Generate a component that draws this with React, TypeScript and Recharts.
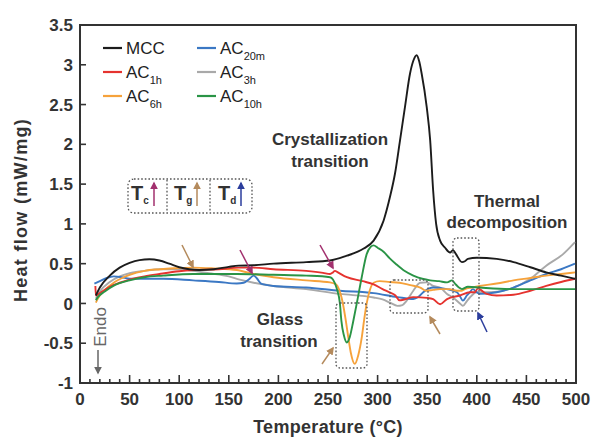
import React from "react";
import { LineChart, Line, XAxis, YAxis, ReferenceArea } from "recharts";

const FONT = '"Liberation Sans", Arial, Helvetica, sans-serif';
const INK = "#333";

const xLabels = [0, 50, 100, 150, 200, 250, 300, 350, 400, 450, 500];
const xTicks = Array.from({ length: 51 }, (_, i) => i * 10);
const yTicks = [-1, -0.5, 0, 0.5, 1, 1.5, 2, 2.5, 3, 3.5];

// [temperature °C, heat flow mW/mg]
const mcc: [number, number][] = [
  [16, 0.1], [20, 0.2], [30, 0.35], [40, 0.45], [50, 0.51], [60, 0.545], [70, 0.555], [80, 0.54],
  [90, 0.5], [100, 0.455], [110, 0.43], [120, 0.42], [135, 0.43], [150, 0.46], [160, 0.475],
  [175, 0.48], [195, 0.5], [228, 0.52], [252, 0.54], [269, 0.6], [280, 0.65], [286, 0.69],
  [296, 0.79], [306, 1.04], [312.5, 1.34], [317.5, 1.63], [322.6, 2.05], [327.6, 2.47],
  [332.7, 2.89], [336, 3.05], [339.4, 3.12], [342, 3.04], [344.4, 2.89], [349.5, 2.47],
  [353, 2.05], [356, 1.42], [359, 1.0], [363, 0.79], [368, 0.7], [373, 0.64], [376, 0.67],
  [379, 0.62], [385, 0.52], [388, 0.53], [391, 0.56], [400, 0.575], [420, 0.56], [437, 0.52],
  [454, 0.455], [470, 0.39], [485, 0.35], [499, 0.31],
];
const ac20m: [number, number][] = [
  [14.5, 0.25], [20, 0.28], [27, 0.32], [34, 0.34], [42, 0.33], [50, 0.31], [84, 0.31],
  [114, 0.29], [140, 0.27], [158, 0.25], [165, 0.26], [170, 0.3], [175, 0.35], [178, 0.32],
  [183, 0.245], [195, 0.22], [228, 0.2], [262, 0.16], [296, 0.13], [320, 0.08], [336, 0.055],
  [341, 0.08], [346, 0.14], [352, 0.19], [356, 0.2], [370, 0.18], [380, 0.14], [383, 0.09],
  [386, 0.035], [390, 0.1], [393, 0.14], [396, 0.18], [400, 0.14], [403, 0.12], [420, 0.14],
  [437, 0.2], [454, 0.29], [470, 0.37], [485, 0.43], [499, 0.5],
];
const ac1h: [number, number][] = [
  [15.5, 0.22], [16, 0.1], [20, 0.13], [30, 0.21], [40, 0.26], [50, 0.3], [65, 0.34], [80, 0.37],
  [100, 0.405], [115, 0.42], [140, 0.43], [160, 0.45], [175, 0.45], [195, 0.43], [228, 0.41],
  [245, 0.385], [252, 0.37], [255, 0.39], [257, 0.41], [260, 0.39], [269, 0.33], [285, 0.28],
  [296, 0.24], [305, 0.18], [312, 0.14], [318, 0.1], [322, 0.04], [327, 0.05], [336, 0.08],
  [350, 0.07], [356, 0.055], [363, -0.01], [370, 0.055], [383, 0.1], [393, 0.14], [398, 0.14],
  [401, 0.19], [404, 0.17], [410, 0.12], [420, 0.1], [437, 0.11], [454, 0.16], [470, 0.22],
  [485, 0.27], [499, 0.31],
];
const ac3h: [number, number][] = [
  [16, 0.06], [20, 0.15], [30, 0.27], [40, 0.34], [50, 0.38], [65, 0.41], [80, 0.43],
  [100, 0.43], [114, 0.41], [130, 0.38], [150, 0.34], [161, 0.3], [175, 0.26], [195, 0.22],
  [228, 0.18], [262, 0.12], [296, 0.075], [305, 0.05], [312.5, 0.01], [320, -0.03], [325, -0.02],
  [329, 0.03], [336, 0.16], [343, 0.26], [349.5, 0.265], [356, 0.22], [363, 0.2], [370, 0.12],
  [376, 0.075], [383, 0.0], [386, -0.03], [390, 0.03], [393, 0.075], [400, 0.14], [413, 0.14],
  [437, 0.2], [454, 0.31], [470, 0.475], [487, 0.62], [499, 0.77],
];
const ac6h: [number, number][] = [
  [16, 0.01], [18, 0.06], [25, 0.17], [35, 0.27], [50, 0.36], [65, 0.41], [81, 0.43],
  [100, 0.445], [114, 0.45], [135, 0.44], [158, 0.42], [175, 0.37], [195, 0.33], [228, 0.29],
  [252, 0.265], [258, 0.24], [261, 0.18], [265, 0.0], [268, -0.22], [270.5, -0.43], [273, -0.62],
  [277, -0.76], [280.5, -0.65], [284, -0.43], [286.5, -0.2], [289, 0.0], [292, 0.16], [296, 0.26],
  [302, 0.28], [312, 0.27], [322, 0.26], [333, 0.23], [343, 0.2], [349, 0.16], [356, 0.17],
  [363, 0.18], [372, 0.18], [380, 0.16], [385, 0.16], [388, 0.18], [395, 0.2], [403, 0.22],
  [420, 0.25], [437, 0.29], [454, 0.32], [470, 0.35], [485, 0.37], [499, 0.39],
];
const ac10h: [number, number][] = [
  [16, 0.04], [18, 0.08], [25, 0.15], [35, 0.23], [50, 0.29], [65, 0.33], [84, 0.35],
  [114, 0.37], [158, 0.37], [195, 0.36], [228, 0.35], [252, 0.33], [255, 0.3], [259, 0.18],
  [262, 0.0], [263.5, -0.22], [266, -0.4], [269, -0.49], [272, -0.42], [275.5, -0.22],
  [279, 0.0], [284, 0.33], [289, 0.62], [293, 0.71], [296, 0.73], [300, 0.7], [306, 0.65],
  [312, 0.57], [319, 0.49], [327, 0.41], [336, 0.35], [345, 0.31], [353, 0.29], [362, 0.28],
  [370, 0.265], [375, 0.29], [378, 0.25], [382, 0.2], [385, 0.18], [391, 0.21], [403, 0.2],
  [437, 0.18], [470, 0.18], [499, 0.18],
];

const toPts = (a: [number, number][]) => a.map(([t, h]) => ({ t, h }));

const series = [
  { key: "ac3h", name: "AC", sub: "3h", color: "#a9a9a9", data: ac3h },
  { key: "ac20m", name: "AC", sub: "20m", color: "#3b78c4", data: ac20m },
  { key: "ac6h", name: "AC", sub: "6h", color: "#f6a23b", data: ac6h },
  { key: "ac1h", name: "AC", sub: "1h", color: "#e5332f", data: ac1h },
  { key: "ac10h", name: "AC", sub: "10h", color: "#2a9446", data: ac10h },
  { key: "mcc", name: "MCC", sub: "", color: "#1c1c1c", data: mcc },
];
const legendOrder = ["mcc", "ac20m", "ac1h", "ac3h", "ac6h", "ac10h"];

const XTick = (props: any) => {
  const { x, y, payload } = props;
  const v = payload.value;
  const major = v % 50 === 0;
  return (
    <g>
      <line x1={x} x2={x} y1={y} y2={y - (major ? 8 : 4)} stroke={INK} strokeWidth={1.6} />
      {major && xLabels.includes(v) && (
        <text x={x} y={y + 22} textAnchor="middle" fontFamily={FONT} fontWeight="bold" fontSize={17} fill={INK}>
          {v}
        </text>
      )}
    </g>
  );
};

const YTick = (props: any) => {
  const { x, y, payload } = props;
  return (
    <g>
      <line x1={x} x2={x + 6} y1={y} y2={y} stroke={INK} strokeWidth={1.6} />
      <text x={x - 7} y={y} dy="0.36em" textAnchor="end" fontFamily={FONT} fontWeight="bold" fontSize={17} fill={INK}>
        {payload.value}
      </text>
    </g>
  );
};

const LegendBox = () => (
  <g transform="translate(100,33)">
    {legendOrder.map((k, i) => {
      const s = series.find((d) => d.key === k)!;
      const col = i % 2;
      const row = Math.floor(i / 2);
      const lx = col === 0 ? 3 : 97;
      const cy = 15 + row * 24;
      return (
        <g key={k}>
          <line x1={lx} x2={lx + 19} y1={cy} y2={cy} stroke={s.color} strokeWidth={2.2} />
          <text x={lx + 23} y={cy + 6} fontFamily={FONT} fontSize={17} fill="#222">
            {s.name}
            {s.sub && (
              <tspan fontSize={11} dy={6}>
                {s.sub}
              </tspan>
            )}
          </text>
        </g>
      );
    })}
  </g>
);

const arrowColors: Record<string, string> = {
  mag: "#a2306e",
  tan: "#b48a5c",
  blu: "#2b3d9c",
  gry: "#666",
};

const Arrow = ({ x1, y1, x2, y2, c, w = 1.5 }: any) => (
  <line x1={x1} y1={y1} x2={x2} y2={y2} stroke={arrowColors[c]} strokeWidth={w} markerEnd={`url(#ah-${c})`} />
);

const Overlay = () => {
  const txt = { fontFamily: FONT, fontWeight: "bold" as const, fill: INK };
  const dot = { fill: "none", stroke: "#555", strokeWidth: 1.3, strokeDasharray: "1.6 2" };
  return (
    <svg width={592} height={439} style={{ position: "absolute", left: 0, top: 0, pointerEvents: "none" }}>
      <defs>
        {Object.entries(arrowColors).map(([k, c]) => (
          <marker key={k} id={`ah-${k}`} viewBox="0 0 10 10" refX="8" refY="5" markerWidth="8" markerHeight="8"
            orient="auto" markerUnits="userSpaceOnUse">
            <path d="M0,0 L10,5 L0,10 z" fill={c} />
          </marker>
        ))}
      </defs>

      <LegendBox />

      {/* axis titles */}
      <text x={21} y={210} transform="rotate(-90 21 210)" textAnchor="middle" dy="0.35em" fontSize={18} letterSpacing={1.3} {...txt}>
        Heat flow (mW/mg)
      </text>
      <text x={328} y={433} textAnchor="middle" fontSize={18} letterSpacing={0.3} {...txt}>
        Temperature (°C)
      </text>

      {/* annotations */}
      <text x={330} y={145} textAnchor="middle" fontSize={17} {...txt}>Crystallization</text>
      <text x={330} y={167} textAnchor="middle" fontSize={17} {...txt}>transition</text>
      <text x={507} y={207} textAnchor="middle" fontSize={17} {...txt}>Thermal</text>
      <text x={507} y={228} textAnchor="middle" fontSize={17} {...txt}>decomposition</text>
      <text x={280} y={325} textAnchor="middle" fontSize={17} {...txt}>Glass</text>
      <text x={279} y={347} textAnchor="middle" fontSize={17} {...txt}>transition</text>

      {/* Endo */}
      <text x={100} y={327} transform="rotate(-90 100 327)" textAnchor="middle" dy="0.35em" fontFamily={FONT} fontSize={17} fill="#666">
        Endo
      </text>
      <Arrow x1={98} y1={350} x2={98} y2={373} c="gry" />

      {/* Tc / Tg / Td key */}
      <rect x={128} y={179} width={124} height={34} rx={6} {...dot} />
      <line x1={167} x2={167} y1={180} y2={212} {...dot} />
      <line x1={210} x2={210} y1={180} y2={212} {...dot} />
      <text x={131} y={200} fontSize={20} {...txt}>T<tspan fontSize={10} dy={4}>c</tspan></text>
      <Arrow x1={154} y1={206} x2={154} y2={183} c="mag" />
      <text x={174} y={200} fontSize={20} {...txt}>T<tspan fontSize={10} dy={4}>g</tspan></text>
      <Arrow x1={197} y1={206} x2={197} y2={183} c="tan" />
      <text x={218} y={200} fontSize={20} {...txt}>T<tspan fontSize={10} dy={4}>d</tspan></text>
      <Arrow x1={241} y1={206} x2={241} y2={183} c="blu" />

      {/* pointing arrows */}
      <Arrow x1={182} y1={245} x2={193} y2={267} c="tan" />
      <Arrow x1={240} y1={250} x2={252} y2={273} c="mag" />
      <Arrow x1={320} y1={245} x2={333} y2={268} c="mag" />
      <Arrow x1={322} y1={364} x2={333} y2={348} c="tan" />
      <Arrow x1={440} y1={334} x2={430} y2={317} c="tan" />
      <Arrow x1={487} y1={332} x2={478} y2={313} c="blu" />

      {/* dotted regions */}
      <rect x={336} y={303} width={31} height={65} rx={4} {...dot} />
      <rect x={390} y={280} width={38} height={33} rx={4} {...dot} />
      <rect x={453} y={238} width={26} height={73} rx={4} {...dot} />
    </svg>
  );
};

export default function App() {
  return (
    <div style={{ position: "absolute", left: 0, top: 0, width: 592, height: 439, background: "#fff" }}>
      <LineChart width={592} height={439} margin={{ top: 25, right: 16, left: 0, bottom: 0 }}>
        <XAxis
          type="number"
          dataKey="t"
          domain={[0, 500]}
          ticks={xTicks}
          interval={0}
          height={56}
          tick={<XTick />}
          tickLine={false}
          tickSize={0}
          tickMargin={0}
          axisLine={{ stroke: INK, strokeWidth: 2 }}
        />
        <YAxis
          type="number"
          dataKey="h"
          domain={[-1, 3.5]}
          ticks={yTicks}
          interval={0}
          width={80}
          tick={<YTick />}
          tickLine={false}
          tickSize={0}
          tickMargin={0}
          axisLine={{ stroke: INK, strokeWidth: 2 }}
        />
        <ReferenceArea x1={0} x2={500} y1={-1} y2={3.5} fill="none" fillOpacity={0} stroke={INK} strokeWidth={2} />
        {series.map((s) => (
          <Line
            key={s.key}
            data={toPts(s.data)}
            dataKey="h"
            name={s.key}
            type="monotone"
            stroke={s.color}
            strokeWidth={1.9}
            dot={false}
            activeDot={false}
            isAnimationActive={false}
          />
        ))}
      </LineChart>
      <Overlay />
    </div>
  );
}
